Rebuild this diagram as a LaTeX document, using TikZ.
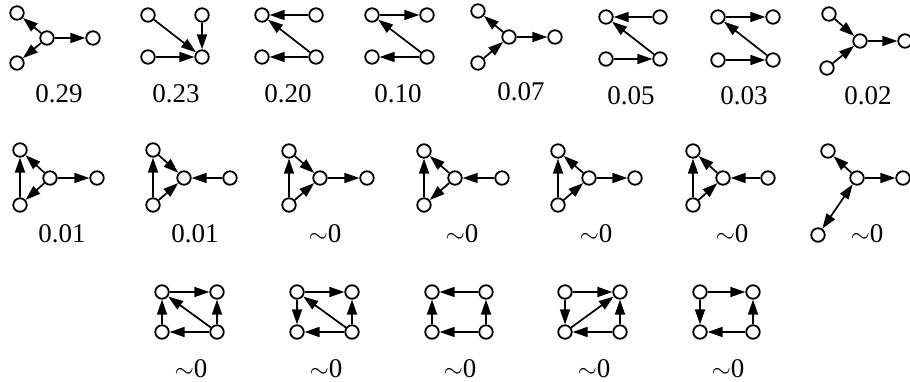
\documentclass[tikz,border=0pt]{standalone}
\usepackage{fontspec}
\setmainfont{Liberation Serif}
\usetikzlibrary{arrows.meta}
\begin{document}
\begin{tikzpicture}[x=1pt,y=-1pt,
  v/.style={circle,draw,fill=white,line width=1.8pt,minimum size=13.5pt,inner sep=0pt},
  e/.style={-{Triangle[length=15pt,width=10pt]},line width=1.7pt},
  be/.style={{Triangle[length=15pt,width=10pt]}-{Triangle[length=15pt,width=10pt]},line width=1.7pt},
  lab/.style={anchor=base,inner sep=0pt,font=\fontsize{27}{30}\selectfont}]
\useasboundingbox (0,0) rectangle (910,382);
% ---------- row 1 ----------
% g1
\node[v] (a1) at (17,13) {}; \node[v] (c1) at (47,38) {}; \node[v] (r1) at (93,38) {}; \node[v] (b1) at (17,63) {};
\draw[e] (c1)--(a1); \draw[e] (c1)--(b1); \draw[e] (c1)--(r1);
\node[lab] (l1) at (59,103) {0.29};
% g2
\node[v] (tl2) at (148,15) {}; \node[v] (tr2) at (202,15) {}; \node[v] (bl2) at (148,57) {}; \node[v] (br2) at (202,57) {};
\draw[e] (tl2)--(br2); \draw[e] (tr2)--(br2); \draw[e] (bl2)--(br2);
\node[lab] (l2) at (176,103) {0.23};
% g3
\node[v] (tl3) at (262,15) {}; \node[v] (tr3) at (316,15) {}; \node[v] (bl3) at (262,57) {}; \node[v] (br3) at (316,57) {};
\draw[e] (tr3)--(tl3); \draw[e] (br3)--(tl3); \draw[e] (br3)--(bl3);
\node[lab] (l3) at (288,103) {0.20};
% g4
\node[v] (tl4) at (372,15) {}; \node[v] (tr4) at (427,15) {}; \node[v] (bl4) at (372,57) {}; \node[v] (br4) at (427,57) {};
\draw[e] (tl4)--(tr4); \draw[e] (br4)--(tl4); \draw[e] (br4)--(bl4);
\node[lab] (l4) at (398,103) {0.10};
% g5
\node[v] (a5) at (478,11) {}; \node[v] (c5) at (509,37) {}; \node[v] (r5) at (555,37) {}; \node[v] (b5) at (478,63) {};
\draw[e] (c5)--(a5); \draw[e] (b5)--(c5); \draw[e] (c5)--(r5);
\node[lab] (l5) at (521,101) {0.07};
% g6
\node[v] (tl6) at (606,17) {}; \node[v] (tr6) at (660,17) {}; \node[v] (bl6) at (606,59) {}; \node[v] (br6) at (660,59) {};
\draw[e] (tr6)--(tl6); \draw[e] (br6)--(tl6); \draw[e] (bl6)--(br6);
\node[lab] (l6) at (631,105) {0.05};
% g7
\node[v] (tl7) at (718,17) {}; \node[v] (tr7) at (773,17) {}; \node[v] (bl7) at (718,60) {}; \node[v] (br7) at (773,60) {};
\draw[e] (tl7)--(tr7); \draw[e] (br7)--(tl7); \draw[e] (bl7)--(br7);
\node[lab] (l7) at (744,105) {0.03};
% g8
\node[v] (a8) at (829,14) {}; \node[v] (c8) at (860,41) {}; \node[v] (r8) at (905,41) {}; \node[v] (b8) at (827,68) {};
\draw[e] (a8)--(c8); \draw[e] (b8)--(c8); \draw[e] (c8)--(r8);
\node[lab] (l8) at (868,105) {0.02};
% ---------- row 2 ----------
% g9
\node[v] (t9) at (20,150) {}; \node[v] (c9) at (50,178) {}; \node[v] (r9) at (97,178) {}; \node[v] (b9) at (20,205) {};
\draw[e] (b9)--(t9); \draw[e] (c9)--(t9); \draw[e] (c9)--(b9); \draw[e] (c9)--(r9);
\node[lab] (l9) at (62,242) {0.01};
% g10
\node[v] (t10) at (153,150) {}; \node[v] (c10) at (184,178) {}; \node[v] (r10) at (230,178) {}; \node[v] (b10) at (153,205) {};
\draw[e] (b10)--(t10); \draw[e] (t10)--(c10); \draw[e] (b10)--(c10); \draw[e] (r10)--(c10);
\node[lab] (l10) at (195,242) {0.01};
% g11
\node[v] (t11) at (289,151) {}; \node[v] (c11) at (320,178) {}; \node[v] (r11) at (367,178) {}; \node[v] (b11) at (289,205) {};
\draw[e] (b11)--(t11); \draw[e] (t11)--(c11); \draw[e] (b11)--(c11); \draw[e] (c11)--(r11);
\node[lab] (l11) at (325,243) {$\sim$0};
% g12
\node[v] (t12) at (424,151) {}; \node[v] (c12) at (455,178) {}; \node[v] (r12) at (502,178) {}; \node[v] (b12) at (424,205) {};
\draw[e] (b12)--(t12); \draw[e] (c12)--(t12); \draw[e] (c12)--(b12); \draw[e] (r12)--(c12);
\node[lab] (l12) at (462,243) {$\sim$0};
% g13
\node[v] (t13) at (558,151) {}; \node[v] (c13) at (589,178) {}; \node[v] (r13) at (635,178) {}; \node[v] (b13) at (558,205) {};
\draw[e] (b13)--(t13); \draw[e] (c13)--(t13); \draw[e] (b13)--(c13); \draw[e] (c13)--(r13);
\node[lab] (l13) at (596,243) {$\sim$0};
% g14
\node[v] (t14) at (693,151) {}; \node[v] (c14) at (723,178) {}; \node[v] (r14) at (768,178) {}; \node[v] (b14) at (693,205) {};
\draw[e] (b14)--(t14); \draw[e] (c14)--(t14); \draw[e] (b14)--(c14); \draw[e] (r14)--(c14);
\node[lab] (l14) at (732,243) {$\sim$0};
% g15
\node[v] (a15) at (828,151) {}; \node[v] (c15) at (857,178) {}; \node[v] (r15) at (903,178) {}; \node[v] (b15) at (818,235) {};
\draw[e] (c15)--(a15); \draw[be] (c15)--(b15); \draw[e] (c15)--(r15);
\node[lab] (l15) at (867,243) {$\sim$0};
% ---------- row 3 ----------
% g16
\node[v] (tl16) at (162,292) {}; \node[v] (tr16) at (217,292) {}; \node[v] (bl16) at (162,332) {}; \node[v] (br16) at (217,332) {};
\draw[e] (tl16)--(tr16); \draw[e] (br16)--(tl16); \draw[e] (bl16)--(tl16); \draw[e] (br16)--(tr16); \draw[e] (br16)--(bl16);
\node[lab] (l16) at (191,377) {$\sim$0};
% g17
\node[v] (tl17) at (297,292) {}; \node[v] (tr17) at (352,292) {}; \node[v] (bl17) at (297,332) {}; \node[v] (br17) at (352,332) {};
\draw[e] (tl17)--(tr17); \draw[e] (br17)--(tl17); \draw[e] (tl17)--(bl17); \draw[e] (br17)--(tr17); \draw[e] (br17)--(bl17);
\node[lab] (l17) at (326,377) {$\sim$0};
% g18
\node[v] (tl18) at (432,292) {}; \node[v] (tr18) at (486,292) {}; \node[v] (bl18) at (432,332) {}; \node[v] (br18) at (486,332) {};
\draw[e] (tr18)--(tl18); \draw[e] (bl18)--(tl18); \draw[e] (br18)--(tr18); \draw[e] (br18)--(bl18);
\node[lab] (l18) at (460,377) {$\sim$0};
% g19
\node[v] (tl19) at (565,292) {}; \node[v] (tr19) at (620,292) {}; \node[v] (bl19) at (565,332) {}; \node[v] (br19) at (620,332) {};
\draw[e] (tl19)--(tr19); \draw[e] (tl19)--(bl19); \draw[e] (bl19)--(tr19); \draw[e] (br19)--(tr19); \draw[e] (br19)--(bl19);
\node[lab] (l19) at (594,377) {$\sim$0};
% g20
\node[v] (tl20) at (700,292) {}; \node[v] (tr20) at (753,292) {}; \node[v] (bl20) at (700,332) {}; \node[v] (br20) at (753,332) {};
\draw[e] (tl20)--(tr20); \draw[e] (tl20)--(bl20); \draw[e] (br20)--(tr20); \draw[e] (br20)--(bl20);
\node[lab] (l20) at (728,377) {$\sim$0};
\end{tikzpicture}
\end{document}
